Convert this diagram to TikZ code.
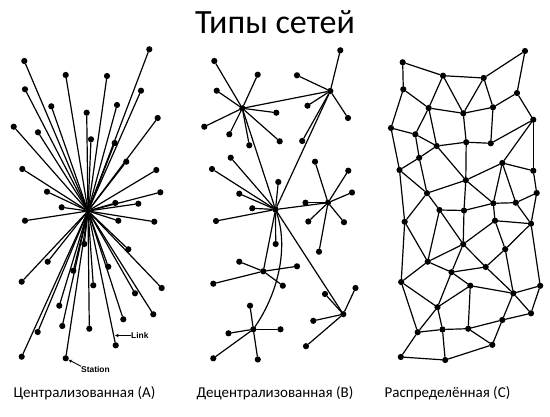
\documentclass[tikz,border=0pt]{standalone}
\usepackage{fontspec}
\setmainfont{Carlito}
\newfontfamily\lblfont{Liberation Sans}
\usetikzlibrary{arrows.meta}
\begin{document}
\begin{tikzpicture}[x=1pt,y=-1pt,
  dot/.style={circle,fill=black,inner sep=0pt,minimum size=6.2pt},
  link/.style={line width=1.2pt,line cap=round},
  caption/.style={font=\fontsize{15}{17}\selectfont,anchor=center,inner sep=0pt},
  small/.style={font=\lblfont\bfseries\fontsize{8.4}{9}\selectfont,inner sep=0pt}]
\fill[white] (0,0) rectangle (550,417);
\useasboundingbox (0,0) rectangle (550,417);
\node[font=\fontsize{34}{37}\selectfont,inner sep=0pt] (title) at (275,22) {Типы сетей};
\node[caption] (capA) at (84.5,393) {Централизованная (А)};
\node[caption] (capB) at (275,393) {Децентрализованная (В)};
\node[caption] (capC) at (447.5,393) {Распределённая (С)};
% ---------- Panel A ----------
\node[dot] (ac) at (88,211) {};
\foreach \p [count=\i] in {(149.3,49.3),(24.3,61),(65.7,75),(107,76),(25,89.3),(141,90.7),(51.3,106.3),(117,105),(86.7,112.7),(157.7,118),(13.7,126.7),(38,132.3),(91,139.3),(114.7,143),(126.3,161.7),(22.3,169),(156.3,170),(47,191.7),(160.3,192.3),(115.3,203),(138.3,203.7),(61.7,207.3),(25,220.7),(118.3,220.7),(154.3,221.7),(128.3,249.3),(84.3,244),(47.7,261.7),(73.3,270.7),(108.3,266.7),(21.7,281.7),(93.3,285.3),(161.7,288),(135,293.3),(59.3,305.7),(153.3,314.3),(123.3,319.3),(62.3,326),(89.3,328.7),(37.7,332),(115.7,345.3),(21.7,356.7),(65.7,358.3)}{
  \node[dot] (a\i) at \p {};
  \draw[link] (ac) -- (a\i);
}
\node[small,anchor=west] (linklbl) at (131,335.5) {Link};
\coordinate (linkpt) at (115.2,335.5);
\draw[line width=0.9pt,-{Stealth[length=3.5pt,width=3.5pt]}] (linklbl.west) -- (linkpt);
\node[small,anchor=west] (stlbl) at (81,369.5) {Station};
\draw[line width=0.9pt,-{Stealth[length=3.5pt,width=3.5pt]}] (stlbl.north west) -- (a43);
% ---------- Panel B ----------
\node[dot] (h1) at (242.3,108.3) {};
\node[dot] (h2) at (330.3,91) {};
\node[dot] (h3) at (275.5,209.5) {};
\node[dot] (h4) at (328,202.7) {};
\node[dot] (h5) at (263.3,271.3) {};
\node[dot] (h6) at (253.3,329.3) {};
\node[dot] (h7) at (343.3,314.2) {};
\draw[link] (h1) -- (h2);
\draw[link] (h1) -- (h3);
\draw[link] (h2) -- (h3);
\draw[link] (h3) -- (h4);
\draw[link] (h3) -- (h5);
\draw[link] (h3) -- (h7);
\draw[link] (h3) .. controls (288,245) and (280,290) .. (h6);
\foreach \p [count=\i] in {(214.3,61),(257.7,74.7),(216.7,90.7),(276.3,112.7),(204.3,126.7),(229.3,134.3),(249.3,145.3),(279.7,141.3)}{
  \node[dot] (b1\i) at \p {}; \draw[link] (h1) -- (b1\i);}
\foreach \p [count=\i] in {(340.3,50.3),(297,75.3),(307.5,105.7),(348,118),(302.2,141)}{
  \node[dot] (b2\i) at \p {}; \draw[link] (h2) -- (b2\i);}
\foreach \p [count=\i] in {(212,169),(230.7,157.7),(278.3,182),(239.3,193.7),(252.3,208.3),(216,221),(275.7,244)}{
  \node[dot] (b3\i) at \p {}; \draw[link] (h3) -- (b3\i);}
\foreach \p [count=\i] in {(315,161.7),(348.3,170.7),(352,192.5),(305.5,202.7),(308.3,221.5),(344,222.2),(319,251.7)}{
  \node[dot] (b4\i) at \p {}; \draw[link] (h4) -- (b4\i);}
\foreach \p [count=\i] in {(239.3,261.7),(297,266.3),(213.3,283.7),(282.8,285.7)}{
  \node[dot] (b5\i) at \p {}; \draw[link] (h5) -- (b5\i);}
\foreach \p [count=\i] in {(250,305.7),(228.5,333.3),(280.5,329.3),(213.3,358.3),(257.8,359.5)}{
  \node[dot] (b6\i) at \p {}; \draw[link] (h6) -- (b6\i);}
\foreach \p [count=\i] in {(325,294),(355.5,288),(313.3,320.8),(306,346.2)}{
  \node[dot] (b7\i) at \p {}; \draw[link] (h7) -- (b7\i);}
% ---------- Panel C ----------
\foreach \p [count=\i] in {(402.7,62.3),(525,51),(443,75.7),(483.7,78),(403.3,89.3),(517,93),(428.7,108),(463.3,113.3),(493,107.3),(533.3,119.7),(391,128),(415.3,134.3),(436.7,146),(466.2,142.2),(490.8,143.3),(419.2,157.8),(502.3,163),(399.5,170),(533.3,170.7),(465.8,180.2),(427,193.2),(536.7,193),(493.3,203.3),(515.8,202.7),(439.5,210),(464,210.5),(404.7,221.8),(495,220.7),(531,223.7),(463.2,244.2),(505.2,249.2),(427.7,261.7),(485.7,267),(451.5,272.2),(401.2,282),(470.3,285.7),(540.2,285.8),(513.3,293.3),(437.5,307.2),(531,313.3),(502.3,320),(417.7,332.2),(442.5,329.5),(468.2,328.7),(492.3,344.8),(400.8,357),(445.2,360)}{
  \node[dot] (c\i) at \p {};}
\foreach \u/\v in {1/3,3/4,4/2,2/6,1/5,3/7,3/8,4/8,4/9,6/9,6/10,5/7,5/11,7/8,8/9,7/12,7/13,11/12,8/14,9/15,10/15,10/17,10/19,12/13,13/14,14/15,12/16,13/16,16/18,11/18,13/20,14/20,17/20,17/19,17/23,17/24,16/21,18/21,20/21,20/23,20/26,19/22,22/24,23/24,21/25,25/26,26/23,18/27,21/27,23/28,28/29,24/29,22/29,28/30,26/30,25/32,25/30,27/32,27/35,30/32,30/34,30/33,28/31,29/31,29/37,31/33,31/38,32/34,32/35,34/33,33/38,34/36,35/39,35/42,36/39,36/38,36/44,38/37,38/40,37/40,38/41,39/42,39/43,34/39,42/43,43/44,44/41,41/40,41/45,44/45,45/47,43/47,42/46,46/47}{
  \draw[link] (c\u) -- (c\v);}
\end{tikzpicture}
\end{document}
